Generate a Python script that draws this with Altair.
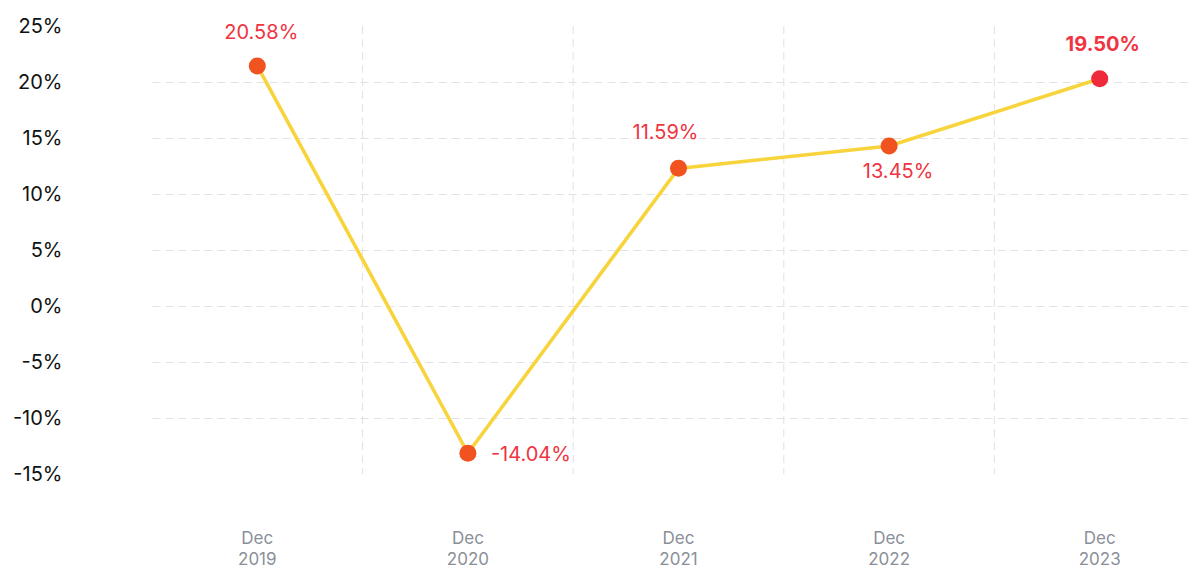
import altair as alt
import pandas as pd

categories = ["Dec 2019", "Dec 2020", "Dec 2021", "Dec 2022", "Dec 2023"]
plotted_values = [21.43, -13.15, 12.29, 14.29, 20.29]
label_texts = ["20.58%", "-14.04%", "11.59%", "13.45%", "19.50%"]
y_ticks = [-15, -10, -5, 0, 5, 10, 15, 20, 25]
grid_categories = ["Dec 2020", "Dec 2021", "Dec 2022", "Dec 2023"]

df = pd.DataFrame({"cat": categories, "value": plotted_values, "label": label_texts})
grid_df = pd.DataFrame({"cat": grid_categories})

FONT = "Inter"
W, H = 1041, 448

x_scale = alt.Scale(domain=categories, range=[0, 1053], paddingInner=0, paddingOuter=0)
y_scale = alt.Scale(domain=[-15, 25], nice=False, zero=False)

x_axis = alt.Axis(
    labelExpr="split(datum.label, ' ')",
    labelAngle=0,
    labelFont=FONT,
    labelFontSize=17,
    labelColor="#8a8f98",
    labelLineHeight=21,
    labelBaseline="top",
    labelPadding=56,
    ticks=False,
    tickSize=0,
    domain=False,
    grid=False,
)

def X(**kw):
    return alt.X("cat:N", scale=x_scale, sort=categories, title=None, axis=x_axis, **kw)

y_enc = alt.Y(
    "value:Q",
    scale=y_scale,
    title=None,
    axis=alt.Axis(
        values=y_ticks,
        labelExpr="datum.value + '%'",
        labelFont=FONT,
        labelFontSize=20,
        labelColor="#111111",
        labelPadding=90,
        ticks=False,
        tickSize=0,
        domain=False,
        grid=True,
        gridColor="#e2e2e2",
        gridDash=[8, 5],
        gridWidth=1,
        gridOpacity={"condition": {"test": "datum.value == 25 || datum.value == -15", "value": 0}, "value": 1},
    ),
)

vgrid = alt.Chart(grid_df).mark_rule(color="#e2e2e2", strokeDash=[8, 5], strokeWidth=1).encode(
    x=X(bandPosition=0),
)

base = alt.Chart(df)

line = base.mark_line(color="#F8D43C", strokeWidth=3.6).encode(x=X(), y=y_enc)

points = base.mark_circle(size=290, opacity=1).encode(
    x=X(),
    y=y_enc,
    color=alt.condition(alt.datum.cat == "Dec 2023", alt.value("#EE2A3B"), alt.value("#F0531F")),
)

placements = [
    ("Dec 2019", 4, -33, "center", "normal"),
    ("Dec 2020", 23, 2, "left", "normal"),
    ("Dec 2021", -13, -35, "center", "normal"),
    ("Dec 2022", 9, 26, "center", "normal"),
    ("Dec 2023", 3, -34, "center", "bold"),
]

texts = []
for cat, dx, dy, align, weight in placements:
    texts.append(
        base.transform_filter(alt.datum.cat == cat)
        .mark_text(
            font=FONT, fontSize=20, color="#EF3442", dx=dx, dy=dy,
            align=align, baseline="middle", fontWeight=weight,
        )
        .encode(x=X(), y=y_enc, text="label:N")
    )

chart = alt.layer(vgrid, line, points, *texts).properties(
    width=W,
    height=H,
    background="white",
    autosize=alt.AutoSizeParams(type="none"),
    padding={"left": 144, "top": 18, "right": 0, "bottom": 96},
).configure_view(stroke=None)

chart.save("out.html", embed_options={"renderer": "svg", "actions": False})
